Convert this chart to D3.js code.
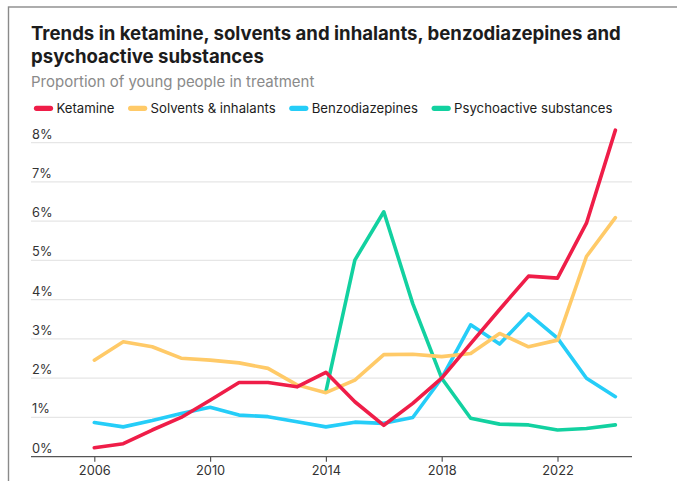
<!DOCTYPE html>
<html>
<head>
<meta charset="utf-8">
<script src="https://cdn.jsdelivr.net/npm/d3@7/dist/d3.min.js"></script>
<style>
  html, body { margin: 0; padding: 0; background: #fff; }
  svg { display: block; font-family: Inter, "Noto Sans", sans-serif; }
</style>
</head>
<body>
<svg id="chart" width="677" height="481"></svg>
<script>
// Share of young people in treatment citing each substance, by year (%)
const years = [2006, 2007, 2008, 2009, 2010, 2011, 2012, 2013, 2014, 2015,
               2016, 2017, 2018, 2019, 2020, 2021, 2022, 2023, 2024];
const ketamine = [0.23, 0.33, 0.68, 1.00, 1.44, 1.89, 1.89, 1.78, 2.15, 1.40,
                  0.80, 1.36, 2.00, 2.88, 3.75, 4.60, 4.55, 5.95, 8.32];
const solvents = [2.46, 2.93, 2.80, 2.51, 2.46, 2.39, 2.25, 1.83, 1.63, 1.95,
                  2.60, 2.61, 2.55, 2.63, 3.14, 2.80, 2.97, 5.10, 6.09];
const benzodiazepines = [0.87, 0.76, 0.92, 1.10, 1.26, 1.06, 1.02, 0.89, 0.76, 0.88,
                         0.85, 1.00, 2.00, 3.36, 2.87, 3.64, 3.02, 2.00, 1.53];
const psychoactive = [null, null, null, null, null, null, null, null, 1.66, 5.01,
                      6.24, 3.90, 2.00, 0.98, 0.83, 0.81, 0.68, 0.72, 0.81];

const seriesNames = ["Ketamine", "Solvents & inhalants", "Benzodiazepines", "Psychoactive substances"];
const seriesValues = [ketamine, solvents, benzodiazepines, psychoactive];
const seriesColors = ["#ef1d48", "#ffca68", "#25cdf8", "#12d1a0"];

const xTicks = [2006, 2010, 2014, 2018, 2022];
const yTicks = [0, 1, 2, 3, 4, 5, 6, 7, 8];

const titleLines = ["Trends in ketamine, solvents and inhalants, benzodiazepines and",
                    "psychoactive substances"];
const subtitle = "Proportion of young people in treatment";

const svg = d3.select("#chart");

// Card frame (open towards the bottom right)
svg.append("rect")
  .attr("x", 8.5).attr("y", 7)
  .attr("width", 720).attr("height", 520)
  .attr("fill", "#fff")
  .attr("stroke", "#8a8a8a").attr("stroke-width", 1.4);

// Title and subtitle
titleLines.forEach((t, i) => {
  svg.append("text")
    .attr("x", 31).attr("y", 39.5 + i * 23.3)
    .attr("font-size", 18.6).attr("font-weight", 700).attr("fill", "#1c1c1c")
    .text(t);
});
svg.append("text")
  .attr("x", 31).attr("y", 86.7)
  .attr("font-size", 15).attr("fill", "#8a8a8a")
  .text(subtitle);

// Legend: swatch + label, laid out left to right
const legend = svg.append("g");
let lx = 34;
seriesNames.forEach((name, i) => {
  legend.append("line")
    .attr("x1", lx + 2.5).attr("x2", lx + 16.5)
    .attr("y1", 108.3).attr("y2", 108.3)
    .attr("stroke", seriesColors[i]).attr("stroke-width", 5.2)
    .attr("stroke-linecap", "round");
  const t = legend.append("text")
    .attr("x", lx + 22.4).attr("y", 112.8)
    .attr("font-size", 13.2).attr("fill", "#1c1c1c")
    .text(name);
  lx += 22.4 + t.node().getComputedTextLength() + 13.7;
});

// Scales
const plotLeft = 31, plotRight = 632;
const x = d3.scaleLinear().domain([2006, 2024]).range([94.3, 615.4]);
const y = d3.scaleLinear().domain([0, 8]).range([456.7, 142.7]);

// Horizontal gridlines with labels sitting above them
const grid = svg.append("g");
yTicks.forEach(v => {
  if (v > 0) {
    grid.append("line")
      .attr("x1", plotLeft).attr("x2", plotRight)
      .attr("y1", y(v)).attr("y2", y(v))
      .attr("stroke", "#e6e6e6").attr("stroke-width", 1.3);
  }
  grid.append("text")
    .attr("x", plotLeft + 1).attr("y", y(v) - 4)
    .attr("font-size", 12.8).attr("fill", "#333")
    .text(v + "%");
});

// Bottom axis
const xAxis = svg.append("g")
  .attr("transform", `translate(0,${y(0)})`)
  .call(d3.axisBottom(x).tickValues(xTicks).tickFormat(d3.format("d"))
          .tickSize(5).tickSizeOuter(0).tickPadding(4));
xAxis.select(".domain").remove();
xAxis.insert("line", ":first-child")
  .attr("x1", plotLeft).attr("x2", plotRight)
  .attr("stroke", "#555").attr("stroke-width", 1.3);
xAxis.selectAll(".tick line").attr("stroke", "#555").attr("stroke-width", 1.2);
xAxis.selectAll(".tick text")
  .attr("font-family", "Inter, sans-serif")
  .attr("font-size", 12.8).attr("fill", "#333");

// Series lines, ketamine drawn last so it sits on top
const line = d3.line()
  .defined(d => d.v != null)
  .x(d => x(d.year))
  .y(d => y(d.v));

const order = [3, 2, 1, 0];
svg.append("g").selectAll("path")
  .data(order)
  .join("path")
  .attr("d", i => line(years.map((yr, k) => ({ year: yr, v: seriesValues[i][k] }))))
  .attr("fill", "none")
  .attr("stroke", i => seriesColors[i])
  .attr("stroke-width", 3.6)
  .attr("stroke-linejoin", "round")
  .attr("stroke-linecap", "round");
</script>
</body>
</html>
